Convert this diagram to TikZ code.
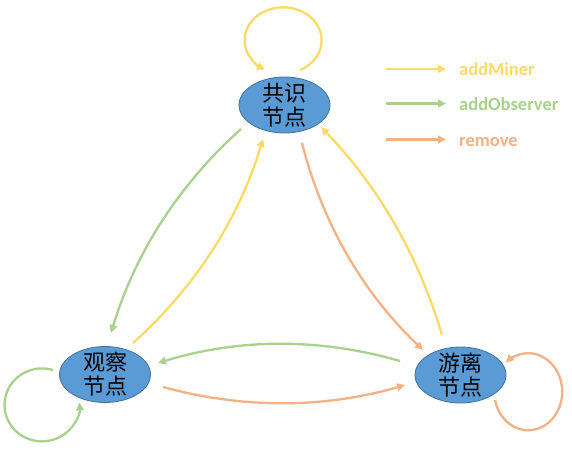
\documentclass[tikz,border=0pt]{standalone}
\usepackage{fontspec}
\setmainfont{Carlito}
\newfontfamily\cjk{Noto Sans CJK SC}
\usetikzlibrary{shapes.geometric,arrows.meta,calc}
\definecolor{cyel}{HTML}{FFD966}
\definecolor{cgrn}{HTML}{A9D18E}
\definecolor{corg}{HTML}{F4B183}
\definecolor{cfill}{HTML}{5B9BD5}
\definecolor{cedge}{HTML}{41719C}
\tikzset{
  ell/.style={ellipse, draw=cedge, line width=0.8pt, fill=cfill, minimum width=91pt, minimum height=56pt, inner sep=0pt},
  txt/.style={align=center, font=\cjk\fontsize{22}{24}\selectfont, text=black, inner sep=0pt},
  conn/.style={line width=2.3pt, -{Triangle[length=8pt,width=7.5pt]}},
  yel/.style={conn, draw=cyel},
  grn/.style={conn, draw=cgrn},
  org/.style={conn, draw=corg},
  legtxt/.style={anchor=base west, font=\bfseries\fontsize{18.5}{20}\selectfont, inner sep=0pt},
}
\begin{document}
\begin{tikzpicture}[x=1pt,y=-1pt]
\useasboundingbox (0,0) rectangle (572,450);
% nodes
\node[ell] (T) at (284.5,105) {};
\node[txt] (Tt) at (T) {共识\\节点};
\node[ell] (O) at (105,374.5) {};
\node[txt] (Ot) at (O) {观察\\节点};
\node[ell] (Y) at (460.5,375) {};
\node[txt] (Yt) at (Y) {游离\\节点};
% connector end points near the nodes
\coordinate (s1) at ($(T)+(-43.5,24)$);  \coordinate (e1) at ($(O)+(6,-41.5)$);
\coordinate (s2) at ($(O)+(28,-31.5)$);  \coordinate (e2) at ($(T)+(-21.5,34)$);
\coordinate (s3) at ($(T)+(17.5,38)$);   \coordinate (e3) at ($(Y)+(-37.5,-25)$);
\coordinate (s4) at ($(Y)+(-18.5,-40)$); \coordinate (e4) at ($(T)+(36.5,22)$);
\coordinate (s5) at ($(Y)+(-60.5,-14)$); \coordinate (e5) at ($(O)+(53,-11.5)$);
\coordinate (s6) at ($(O)+(58,12.5)$);   \coordinate (e6) at ($(Y)+(-55.5,10)$);
% connectors between nodes
\draw[grn] (s1) .. controls ($(s1)!1/3!(e1)+(-19,-12.1)$) and ($(s1)!2/3!(e1)+(-19,-12.1)$) .. (e1);
\draw[yel] (s2) .. controls ($(s2)!1/3!(e2)+(19,12.1)$) and ($(s2)!2/3!(e2)+(19,12.1)$) .. (e2);
\draw[org] (s3) .. controls ($(s3)!1/3!(e3)+(-19.8,11.6)$) and ($(s3)!2/3!(e3)+(-19.8,11.6)$) .. (e3);
\draw[yel] (s4) .. controls ($(s4)!1/3!(e4)+(16.9,-9.9)$) and ($(s4)!2/3!(e4)+(16.9,-9.9)$) .. (e4);
\draw[grn] (s5) .. controls ($(s5)!1/3!(e5)+(0,-24)$) and ($(s5)!2/3!(e5)+(0,-24)$) .. (e5);
\draw[org] (s6) .. controls ($(s6)!1/3!(e6)+(0,22.7)$) and ($(s6)!2/3!(e6)+(0,22.7)$) .. (e6);
% self loops
\draw[yel] ($(T)+(15.5,-35)$) arc[start angle=64, end angle=-242, x radius=38.5, y radius=33];
\draw[grn] ($(O)+(-52,-4.5)$) arc[start angle=-73, end angle=-364, x radius=37.5, y radius=36.5];
\draw[org] ($(Y)+(34.5,25)$) arc[start angle=167.6, end angle=-131, x radius=34, y radius=38.5];
% legend
\node[legtxt, text=cyel] (L1) at (459,75) {addMiner};
\node[legtxt, text=cgrn] (L2) at (459,110) {addObserver};
\node[legtxt, text=corg] (L3) at (459,146) {remove};
\coordinate (a1) at (386,69);
\coordinate (a2) at (386,103.5);
\coordinate (a3) at (386,139.5);
\draw[yel] (a1) -- ($(a1)+(60,0)$);
\draw[grn] (a2) -- ($(a2)+(60,0)$);
\draw[org] (a3) -- ($(a3)+(60,0)$);
\end{tikzpicture}
\end{document}
